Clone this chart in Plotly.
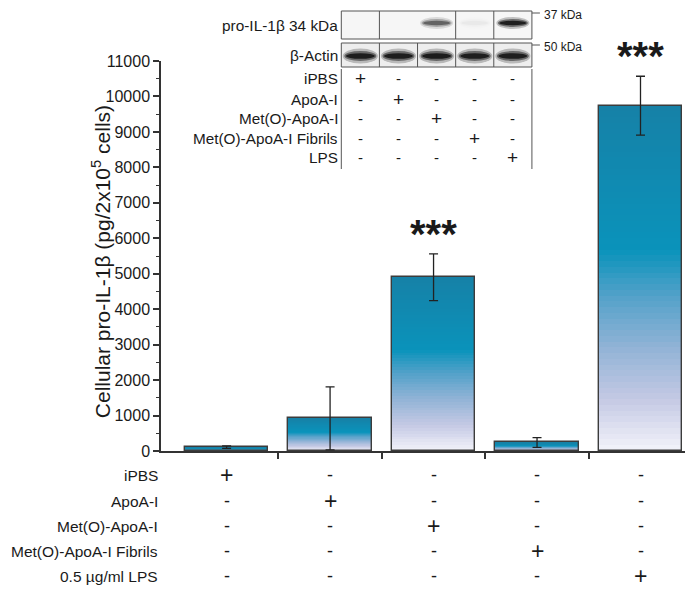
import plotly.graph_objects as go

# ---------------- data ----------------
groups = ["iPBS", "ApoA-I", "Met(O)-ApoA-I", "Met(O)-ApoA-I Fibrils", "0.5 µg/ml LPS"]
values = [110, 920, 4900, 240, 9740]
errors = [35, 890, 660, 135, 830]
significance = ["", "", "***", "", "***"]

table_rows = ["iPBS", "ApoA-I", "Met(O)-ApoA-I", "Met(O)-ApoA-I Fibrils", "0.5 µg/ml LPS"]
inset_rows = ["iPBS", "ApoA-I", "Met(O)-ApoA-I", "Met(O)-ApoA-I Fibrils", "LPS"]
# treatment matrix: row = treatment, column = group (1 = "+")
treatment = [[1 if r == c else 0 for c in range(5)] for r in range(5)]

# western blot band intensities per lane (0..1)
proil_band = [0.0, 0.0, 0.5, 0.03, 0.95]
actin_band = [0.95, 0.95, 0.97, 0.95, 0.95]

y_ticks = list(range(0, 11001, 1000))

# ---------------- layout geometry (pixels) ----------------
W, H = 693, 596
L, R, T, B = 153.3, 692.0, 53, 443
X_RANGE = [-0.634, 4.575]
FONT = "Liberation Sans, Arial, sans-serif"
TXT = "#1a1a1a"


def PX(x):
    return (x - L) / (R - L)


def PY(y):
    return (B - y) / (B - T)


# gradient stops (fraction of bar height from bottom -> colour)
stops = [(0.00, (243, 243, 250)), (0.15, (196, 201, 228)), (0.30, (145, 179, 214)),
         (0.45, (82, 161, 201)), (0.58, (10, 147, 187)), (1.00, (22, 129, 167))]


def grad(f):
    for (f0, c0), (f1, c1) in zip(stops[:-1], stops[1:]):
        if f0 <= f <= f1:
            t = (f - f0) / (f1 - f0)
            c = [round(a + (b - a) * t) for a, b in zip(c0, c1)]
            return "rgb(%d,%d,%d)" % tuple(c)
    return "rgb(%d,%d,%d)" % stops[-1][1]


xs = list(range(len(values)))
BW = 0.806
fig = go.Figure()
N = 60
for k in range(N):
    base = [v * k / N for v in values]
    hgt = [v - b for v, b in zip(values, base)]
    fig.add_trace(go.Bar(x=xs, y=hgt, base=base, width=BW,
                         marker=dict(color=grad((k + 0.5) / N), line=dict(width=0)),
                         hoverinfo="skip", showlegend=False))

fig.add_trace(go.Bar(x=xs, y=values, width=BW, name="pro-IL-1β",
                     marker=dict(color="rgba(0,0,0,0)", line=dict(color="#3c3c3c", width=1.4)),
                     error_y=dict(type="data", array=errors, visible=True,
                                  color="#222222", thickness=1.3, width=4.5),
                     showlegend=False))

annotations = []
# significance stars
for i, s in enumerate(significance):
    if s:
        annotations.append(dict(x=i, y=values[i] + errors[i], xref="x", yref="y",
                                text="<b>" + s + "</b>", showarrow=False, yanchor="middle",
                                yshift=20, font=dict(family=FONT, size=40, color=TXT)))

# y title
annotations.append(dict(x=PX(94), y=PY(253.5), xref="paper", yref="paper",
                        text="Cellular pro-IL-1β (pg/2x10<sup>5</sup> cells)",
                        textangle=-90, showarrow=False, xanchor="center", yanchor="middle",
                        font=dict(family=FONT, size=21, color=TXT)))

# bottom treatment table
row_y = [467, 493, 518, 543, 568]
for r, lab in enumerate(table_rows):
    annotations.append(dict(x=PX(152), y=PY(row_y[r]), xref="paper", yref="paper",
                            text=lab, showarrow=False, xanchor="right", yanchor="middle",
                            font=dict(family=FONT, size=15.5, color=TXT)))
    for c in range(5):
        plus = treatment[r][c] == 1
        annotations.append(dict(x=c, y=PY(row_y[r]), xref="x", yref="paper",
                                text="+" if plus else "-", showarrow=False,
                                xanchor="center", yanchor="middle",
                                font=dict(family=FONT, size=23 if plus else 18, color=TXT)))

# ---------------- inset (western blot + table) ----------------
shapes = []
bx0, bx1 = 333.5, 524.0
lane_w = (bx1 - bx0) / 5
top_row = (3.0, 31.0)
bot_row = (35.0, 59.0)
for (y0, y1), fill in [(top_row, "#f6f6f6"), (bot_row, "#eeeeee")]:
    shapes.append(dict(type="rect", xref="paper", yref="paper", x0=PX(bx0), x1=PX(bx1),
                       y0=PY(y1), y1=PY(y0), fillcolor=fill, line=dict(color="#555", width=1),
                       layer="above"))


def band(cx, cy, hw, hh, inten):
    if inten <= 0.01:
        return
    for sw, sh, op in [(1.1, 2.0, 0.25), (1.0, 1.3, 0.5), (0.9, 0.75, 0.9)]:
        shapes.append(dict(type="circle", xref="paper", yref="paper",
                           x0=PX(cx - hw * sw), x1=PX(cx + hw * sw),
                           y0=PY(cy + hh * sh), y1=PY(cy - hh * sh),
                           fillcolor="#111", opacity=op * inten, line=dict(width=0),
                           layer="above"))


for i in range(5):
    cx = bx0 + lane_w * (i + 0.5)
    band(cx, (top_row[0] + top_row[1]) / 2 - 2, 15, 3.0, proil_band[i])
    band(cx, (bot_row[0] + bot_row[1]) / 2 + 1, 16, 3.8, actin_band[i])

for j in range(1, 5):
    xx = bx0 + lane_w * j
    if j != 2:
        shapes.append(dict(type="line", xref="paper", yref="paper", x0=PX(xx), x1=PX(xx),
                           y0=PY(top_row[1]), y1=PY(top_row[0]),
                           line=dict(color="#555", width=1), layer="above"))
    shapes.append(dict(type="line", xref="paper", yref="paper", x0=PX(xx), x1=PX(xx),
                       y0=PY(bot_row[1]), y1=PY(bot_row[0]),
                       line=dict(color="#555", width=1), layer="above"))

for yy, lab in [(top_row[0], "37 kDa"), (bot_row[0], "50 kDa")]:
    shapes.append(dict(type="line", xref="paper", yref="paper", x0=PX(bx1), x1=PX(bx1 + 8),
                       y0=PY(yy + 2), y1=PY(yy + 2), line=dict(color="#555", width=1)))
    annotations.append(dict(x=PX(bx1 + 10), y=PY(yy + 4), xref="paper", yref="paper", text=lab,
                            showarrow=False, xanchor="left", yanchor="middle",
                            font=dict(family=FONT, size=12, color=TXT)))

annotations.append(dict(x=PX(332), y=PY((top_row[0] + top_row[1]) / 2), xref="paper",
                        yref="paper", text="pro-IL-1β 34 kDa", showarrow=False,
                        xanchor="right", yanchor="middle",
                        font=dict(family=FONT, size=15.4, color=TXT)))
annotations.append(dict(x=PX(332), y=PY((bot_row[0] + bot_row[1]) / 2), xref="paper",
                        yref="paper", text="β-Actin", showarrow=False, xanchor="right",
                        yanchor="middle", font=dict(family=FONT, size=15.4, color=TXT)))

for xx in (bx0, bx1):
    shapes.append(dict(type="line", xref="paper", yref="paper", x0=PX(xx), x1=PX(xx),
                       y0=PY(161), y1=PY(61), line=dict(color="#555", width=1)))

inset_y = [71, 91, 110, 130, 149]
for r, lab in enumerate(inset_rows):
    annotations.append(dict(x=PX(332), y=PY(inset_y[r]), xref="paper", yref="paper",
                            text=lab, showarrow=False, xanchor="right", yanchor="middle",
                            font=dict(family=FONT, size=15.3, color=TXT)))
    for c in range(5):
        plus = treatment[r][c] == 1
        annotations.append(dict(x=PX(bx0 + lane_w * (c + 0.5)), y=PY(inset_y[r]),
                                xref="paper", yref="paper",
                                text="+" if plus else "-", showarrow=False,
                                xanchor="center", yanchor="middle",
                                font=dict(family=FONT, size=19 if plus else 15, color=TXT)))

fig.update_layout(
    width=W, height=H, autosize=False,
    margin=dict(l=L, r=W - R, t=T, b=H - B, pad=0),
    paper_bgcolor="white", plot_bgcolor="white",
    barmode="overlay", bargap=0,
    font=dict(family=FONT, color=TXT),
    annotations=annotations, shapes=shapes,
    showlegend=False,
)
fig.update_xaxes(range=X_RANGE, tickmode="array", tickvals=[0.5, 1.5, 2.5, 3.5, 4.5],
                 showticklabels=False, ticks="outside", ticklen=6, tickwidth=1.5,
                 tickcolor="#333", showline=True, linecolor="#333", linewidth=1.5,
                 showgrid=False, zeroline=False, fixedrange=True)
fig.update_yaxes(range=[0, 11000], tickmode="array", tickvals=y_ticks,
                 ticktext=[str(t) for t in y_ticks], ticks="outside", ticklen=6, tickwidth=1.5,
                 tickcolor="#333", showline=True, linecolor="#333", linewidth=1.5,
                 minor=dict(dtick=500, ticks="outside", ticklen=3.5, tickwidth=1.2,
                            tickcolor="#333"),
                 tickfont=dict(family=FONT, size=16, color=TXT),
                 showgrid=False, zeroline=False, fixedrange=True)

fig.write_html("out.html")
